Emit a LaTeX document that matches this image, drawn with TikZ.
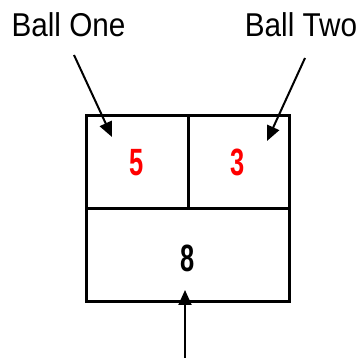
\documentclass[tikz,border=0pt]{standalone}
\usepackage{fontspec}
\setmainfont{Liberation Sans}
\usetikzlibrary{arrows.meta}
\begin{document}
\begin{tikzpicture}[x=1pt,y=-1pt,
  cell/.style={draw, line width=3pt, inner sep=0pt, minimum height=93pt},
  num/.style={font=\fontsize{38}{42}\selectfont\bfseries, inner sep=0pt},
  lbl/.style={font=\fontsize{33}{36}\selectfont, anchor=base, inner sep=0pt},
  ptr/.style={line width=2pt, -{Triangle[length=15pt,width=13pt]}}]
\useasboundingbox (0,0) rectangle (362,358);
\node[cell, minimum width=102pt] (left) at (137,162.5) {};
\node[cell, minimum width=101pt] (right) at (238.5,162.5) {};
\node[cell, minimum width=203pt] (bottom) at (187.5,255.5) {};
\node[num, text=red] (five) at (137,162.5) {\scalebox{0.67}[1]{5}};
\node[num, text=red] (three) at (238,162.5) {\scalebox{0.67}[1]{3}};
\node[num] (eight) at (188,258) {\scalebox{0.67}[1]{8}};
\node[lbl] (one) at (68.5,37) {\scalebox{0.9}[1]{Ball One}};
\node[lbl] (two) at (301,37) {\scalebox{0.9}[1]{Ball Two}};
\coordinate (s1) at (74,55);
\coordinate (t1) at (112,137);
\coordinate (s2) at (305,58);
\coordinate (t2) at (267,141);
\coordinate (s3) at (185,360);
\coordinate (t3) at (185,290);
\draw[ptr] (s1) -- (t1);
\draw[ptr] (s2) -- (t2);
\draw[ptr] (s3) -- (t3);
\end{tikzpicture}
\end{document}
